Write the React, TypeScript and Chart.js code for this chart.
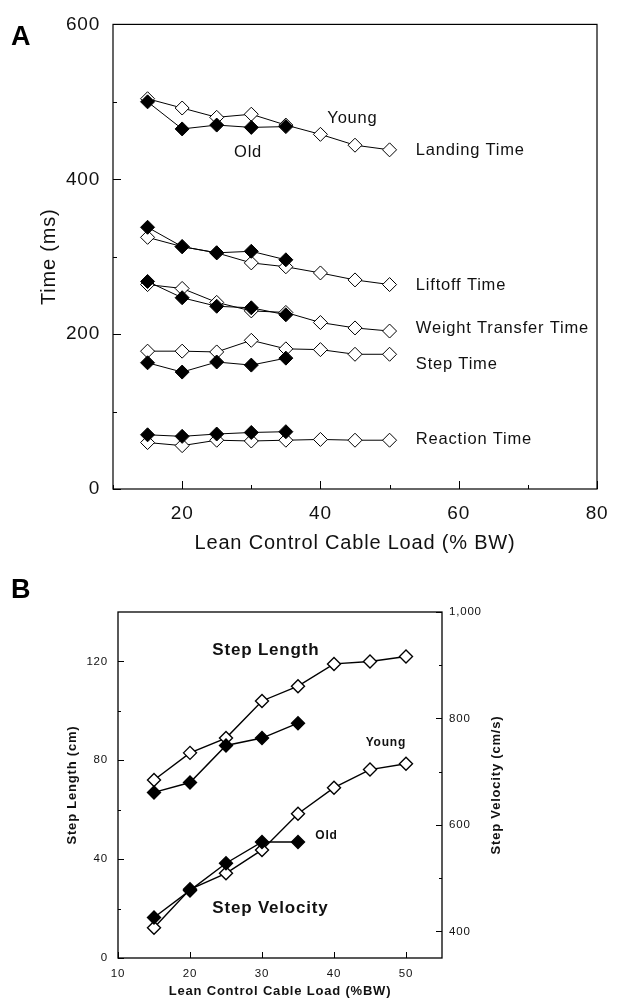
import React, { useEffect, useRef } from "react";
import { Chart, registerables } from "chart.js";

Chart.register(...registerables);

const FONT = "'Liberation Sans', Arial, Helvetica, sans-serif";
const INK = "#111";

// ---------- Panel A data ----------
const LOAD_YOUNG = [15, 20, 25, 30, 35, 40, 45, 50];
const LOAD_OLD = [15, 20, 25, 30, 35];

const LANDING_YOUNG = [504, 492, 480, 484, 470, 458, 444, 438];
const LANDING_OLD = [500, 465, 470, 467, 468];
const LIFTOFF_YOUNG = [325, 313, 305, 292, 287, 279, 270, 264];
const LIFTOFF_OLD = [338, 313, 305, 307, 296];
const WEIGHT_YOUNG = [264, 259, 241, 230, 228, 215, 208, 204];
const WEIGHT_OLD = [268, 247, 236, 234, 225];
const STEP_YOUNG = [178, 178, 177, 192, 181, 180, 174, 174];
const STEP_OLD = [163, 151, 164, 160, 169];
const REACTION_YOUNG = [60, 56, 63, 62, 63, 64, 63, 63];
const REACTION_OLD = [70, 68, 71, 73, 74];

const A_X_MAJOR = [20, 40, 60, 80];
const A_X_MINOR = [10, 30, 50, 70];
const A_Y_MAJOR = [0, 200, 400, 600];
const A_Y_MINOR = [100, 300, 500];

const A_NOTES = [
  { text: "Young", x: 41, y: 479 },
  { text: "Old", x: 27.5, y: 434 },
  { text: "Landing Time", x: 53.8, y: 437 },
  { text: "Liftoff Time", x: 53.8, y: 263 },
  { text: "Weight Transfer Time", x: 53.8, y: 207 },
  { text: "Step Time", x: 53.8, y: 161 },
  { text: "Reaction Time", x: 53.8, y: 64 },
];

// ---------- Panel B data ----------
const LENGTH_YOUNG = [72, 83, 89, 104, 110, 119, 120, 122];
const LENGTH_OLD = [67, 71, 86, 89, 95];
const VELOCITY_YOUNG = [407, 479, 509, 553, 621, 670, 704, 715];
const VELOCITY_OLD = [426, 477, 528, 568, 568];

const B_X_MAJOR = [10, 20, 30, 40, 50];
const B_YL_MAJOR = [0, 40, 80, 120];
const B_YL_MINOR = [20, 60, 100];
const B_YR_MAJOR = [400, 600, 800, 1000];
const B_YR_MINOR = [500, 700, 900];

const B_NOTES = [
  { text: "Step Length", x: 23.1, y: 124.6, bold: true, size: 17 },
  { text: "Step Velocity", x: 23.1, y: 20.2, bold: true, size: 17 },
  { text: "Young", x: 44.4, y: 87, bold: true, size: 12 },
  { text: "Old", x: 37.4, y: 49.4, bold: true, size: 12 },
];

// ---------- helpers ----------
const pts = (xs: number[], ys: number[]) => xs.map((x, i) => ({ x, y: ys[i] }));

function series(xs: number[], ys: number[], filled: boolean, r: number, lw: number, yAxisID = "y") {
  return {
    data: pts(xs, ys),
    yAxisID,
    borderColor: "#000",
    borderWidth: lw,
    pointStyle: "rectRot",
    pointRadius: r,
    pointBackgroundColor: filled ? "#000" : "#fff",
    pointBorderColor: "#000",
    pointBorderWidth: lw,
    fill: false,
    tension: 0,
  };
}

type TickSpec = { axis: string; side: "bottom" | "left" | "right"; values: number[]; len: number };

function framePlugin(
  id: string,
  spacing: string,
  boxWidth: number,
  tickSpecs: TickSpec[],
  drawText: (chart: any) => void
) {
  return {
    id,
    beforeUpdate(chart: any) {
      chart.ctx.letterSpacing = spacing;
    },
    beforeDraw(chart: any) {
      const ctx = chart.ctx;
      ctx.letterSpacing = spacing;
      ctx.save();
      ctx.fillStyle = "#fff";
      ctx.fillRect(0, 0, chart.width, chart.height);
      ctx.restore();
    },
    beforeDatasetsDraw(chart: any) {
      const ctx = chart.ctx;
      const a = chart.chartArea;
      ctx.save();
      ctx.strokeStyle = "#000";
      ctx.lineWidth = boxWidth;
      ctx.strokeRect(a.left, a.top, a.right - a.left, a.bottom - a.top);
      ctx.lineWidth = 1;
      ctx.beginPath();
      for (const t of tickSpecs) {
        const s = chart.scales[t.axis];
        for (const v of t.values) {
          const p = Math.round(s.getPixelForValue(v)) + 0.5;
          if (t.side === "bottom") {
            ctx.moveTo(p, a.bottom);
            ctx.lineTo(p, a.bottom - t.len);
          } else if (t.side === "left") {
            ctx.moveTo(a.left, p);
            ctx.lineTo(a.left + t.len, p);
          } else {
            ctx.moveTo(a.right, p);
            ctx.lineTo(a.right - t.len, p);
          }
        }
      }
      ctx.stroke();
      ctx.restore();
    },
    afterDatasetsDraw(chart: any) {
      const ctx = chart.ctx;
      ctx.save();
      ctx.letterSpacing = spacing;
      ctx.fillStyle = INK;
      drawText(chart);
      ctx.restore();
    },
  };
}

function fixedTicks(values: number[]) {
  return (s: any) => {
    s.ticks = values.map((v) => ({ value: v }));
  };
}

function configA(): any {
  const d = [
    series(LOAD_OLD, LANDING_OLD, true, 7, 1),
    series(LOAD_YOUNG, LANDING_YOUNG, false, 7, 1),
    series(LOAD_OLD, LIFTOFF_OLD, true, 7, 1),
    series(LOAD_YOUNG, LIFTOFF_YOUNG, false, 7, 1),
    series(LOAD_OLD, WEIGHT_OLD, true, 7, 1),
    series(LOAD_YOUNG, WEIGHT_YOUNG, false, 7, 1),
    series(LOAD_OLD, STEP_OLD, true, 7, 1),
    series(LOAD_YOUNG, STEP_YOUNG, false, 7, 1),
    series(LOAD_OLD, REACTION_OLD, true, 7, 1),
    series(LOAD_YOUNG, REACTION_YOUNG, false, 7, 1),
  ];
  const plugin = framePlugin(
    "frameA",
    "0.8px",
    1.2,
    [
      { axis: "x", side: "bottom", values: A_X_MAJOR, len: 8 },
      { axis: "x", side: "bottom", values: A_X_MINOR, len: 4 },
      { axis: "y", side: "left", values: A_Y_MAJOR, len: 8 },
      { axis: "y", side: "left", values: A_Y_MINOR, len: 4 },
    ],
    (chart: any) => {
      const ctx = chart.ctx;
      const xs = chart.scales.x;
      const ys = chart.scales.y;
      ctx.font = `16.5px ${FONT}`;
      ctx.textAlign = "left";
      ctx.textBaseline = "middle";
      for (const n of A_NOTES) {
        ctx.fillText(n.text, xs.getPixelForValue(n.x), ys.getPixelForValue(n.y));
      }
      ctx.font = `bold 27px ${FONT}`;
      ctx.fillStyle = "#000";
      ctx.fillText("A", 11, 38);
    }
  );
  return {
    type: "line",
    data: { datasets: d },
    options: {
      animation: false,
      responsive: false,
      events: [],
      layout: { padding: { top: 17, left: 0, right: 35, bottom: 0 } },
      plugins: { legend: { display: false }, tooltip: { enabled: false } },
      scales: {
        x: {
          type: "linear",
          min: 10,
          max: 80,
          afterBuildTicks: fixedTicks(A_X_MAJOR),
          afterFit: (s: any) => {
            s.height = 71;
          },
          grid: { display: false, drawTicks: false },
          border: { display: false },
          ticks: { padding: 13, color: INK, font: { family: FONT, size: 19 }, maxRotation: 0, autoSkip: false },
          title: {
            display: true,
            text: "Lean Control Cable Load (% BW)",
            color: INK,
            font: { family: FONT, size: 20 },
            padding: { top: 0, bottom: 5 },
          },
        },
        y: {
          type: "linear",
          min: 0,
          max: 600,
          afterBuildTicks: fixedTicks(A_Y_MAJOR),
          afterFit: (s: any) => {
            s.width = 113;
          },
          grid: { display: false, drawTicks: false },
          border: { display: false },
          ticks: { padding: 13, color: INK, font: { family: FONT, size: 19 }, autoSkip: false },
          title: {
            display: true,
            text: "Time (ms)",
            color: INK,
            font: { family: FONT, size: 20 },
            padding: { top: 37, bottom: 0 },
          },
        },
      },
    },
    plugins: [plugin],
  };
}

function configB(): any {
  const d = [
    series(LOAD_OLD, LENGTH_OLD, true, 6.5, 1.4, "y"),
    series(LOAD_YOUNG, LENGTH_YOUNG, false, 6.5, 1.4, "y"),
    series(LOAD_OLD, VELOCITY_OLD, true, 6.5, 1.4, "y2"),
    series(LOAD_YOUNG, VELOCITY_YOUNG, false, 6.5, 1.4, "y2"),
  ];
  const plugin = framePlugin(
    "frameB",
    "0.8px",
    1.3,
    [
      { axis: "x", side: "bottom", values: B_X_MAJOR, len: 6 },
      { axis: "y", side: "left", values: B_YL_MAJOR, len: 6 },
      { axis: "y", side: "left", values: B_YL_MINOR, len: 3 },
      { axis: "y2", side: "right", values: B_YR_MAJOR, len: 6 },
      { axis: "y2", side: "right", values: B_YR_MINOR, len: 3 },
    ],
    (chart: any) => {
      const ctx = chart.ctx;
      const xs = chart.scales.x;
      const ys = chart.scales.y;
      const a = chart.chartArea;
      const midY = (a.top + a.bottom) / 2;
      ctx.textAlign = "left";
      ctx.textBaseline = "middle";
      for (const n of B_NOTES) {
        ctx.font = `${n.bold ? "bold " : ""}${n.size}px ${FONT}`;
        ctx.fillText(n.text, xs.getPixelForValue(n.x), ys.getPixelForValue(n.y));
      }
      ctx.font = `bold 13px ${FONT}`;
      ctx.textAlign = "center";
      ctx.save();
      ctx.translate(72, midY);
      ctx.rotate(-Math.PI / 2);
      ctx.fillText("Step Length (cm)", 0, 0);
      ctx.restore();
      ctx.save();
      ctx.translate(496, midY);
      ctx.rotate(-Math.PI / 2);
      ctx.fillText("Step Velocity (cm/s)", 0, 0);
      ctx.restore();
      ctx.font = `bold 27px ${FONT}`;
      ctx.fillStyle = "#000";
      ctx.textAlign = "left";
      ctx.fillText("B", 11, 31);
    }
  );
  return {
    type: "line",
    data: { datasets: d },
    options: {
      animation: false,
      responsive: false,
      events: [],
      layout: { padding: { top: 52, left: 0, right: 0, bottom: 0 } },
      plugins: { legend: { display: false }, tooltip: { enabled: false } },
      scales: {
        x: {
          type: "linear",
          min: 10,
          max: 55,
          afterBuildTicks: fixedTicks(B_X_MAJOR),
          afterFit: (s: any) => {
            s.height = 41;
          },
          grid: { display: false, drawTicks: false },
          border: { display: false },
          ticks: { padding: 9, color: INK, font: { family: FONT, size: 11.5 }, maxRotation: 0, autoSkip: false },
          title: {
            display: true,
            text: "Lean Control Cable Load (%BW)",
            color: INK,
            font: { family: FONT, size: 13, weight: "bold" },
            padding: { top: 0, bottom: 0 },
          },
        },
        y: {
          type: "linear",
          position: "left",
          min: 0,
          max: 140,
          afterBuildTicks: fixedTicks(B_YL_MAJOR),
          afterFit: (s: any) => {
            s.width = 118;
          },
          grid: { display: false, drawTicks: false },
          border: { display: false },
          ticks: { padding: 10, color: INK, font: { family: FONT, size: 11.5 }, autoSkip: false },
        },
        y2: {
          type: "linear",
          position: "right",
          min: 350,
          max: 1000,
          afterBuildTicks: fixedTicks(B_YR_MAJOR),
          afterFit: (s: any) => {
            s.width = 190;
          },
          grid: { display: false, drawTicks: false },
          border: { display: false },
          ticks: {
            padding: 7,
            color: INK,
            font: { family: FONT, size: 11.5 },
            autoSkip: false,
            callback: (v: number) => v.toLocaleString("en-US"),
          },
        },
      },
    },
    plugins: [plugin],
  };
}

export default function App() {
  const refA = useRef<HTMLCanvasElement>(null);
  const refB = useRef<HTMLCanvasElement>(null);
  useEffect(() => {
    const a = new Chart(refA.current as HTMLCanvasElement, configA());
    const b = new Chart(refB.current as HTMLCanvasElement, configB());
    return () => {
      a.destroy();
      b.destroy();
    };
  }, []);
  return (
    <div style={{ position: "absolute", left: 0, top: 0, width: 632, height: 999, background: "#fff" }}>
      <canvas
        ref={refA}
        width={632}
        height={560}
        style={{ position: "absolute", left: 0, top: 0, width: 632, height: 560 }}
      />
      <canvas
        ref={refB}
        width={632}
        height={439}
        style={{ position: "absolute", left: 0, top: 560, width: 632, height: 439 }}
      />
    </div>
  );
}
